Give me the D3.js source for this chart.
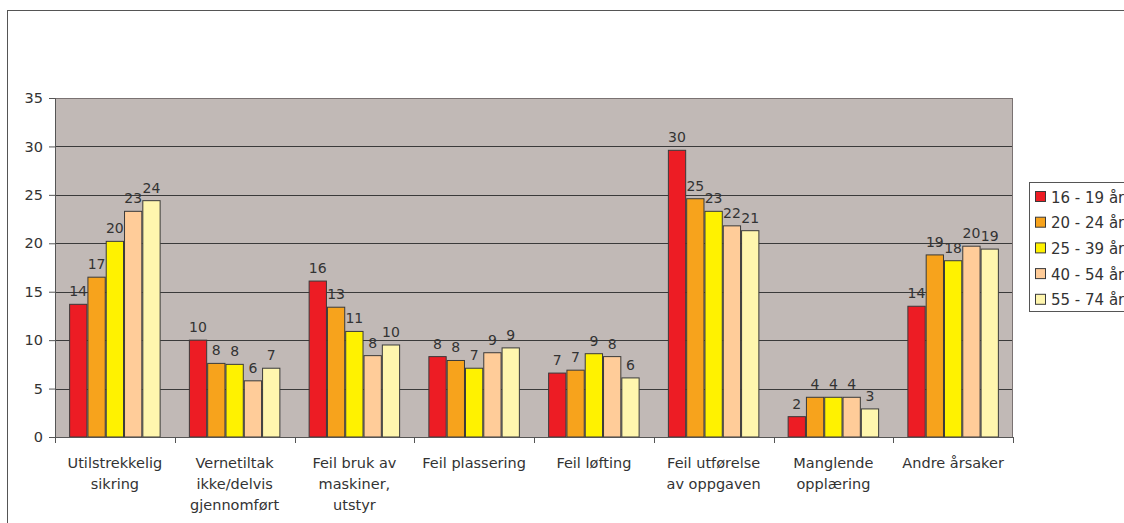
<!DOCTYPE html>
<html><head><meta charset="utf-8">
<script src="https://cdn.jsdelivr.net/npm/d3@7"></script>
<style>body{margin:0;background:#fff}svg{display:block;font-family:"DejaVu Sans",Arial,sans-serif}</style>
</head><body><svg id="c" width="1124" height="523"></svg>
<script>
const categories = [
  ["Utilstrekkelig","sikring"],
  ["Vernetiltak","ikke/delvis","gjennomført"],
  ["Feil bruk av","maskiner,","utstyr"],
  ["Feil plassering"],
  ["Feil løfting"],
  ["Feil utførelse","av oppgaven"],
  ["Manglende","opplæring"],
  ["Andre årsaker"]
];
const seriesNames = ["16 - 19 år","20 - 24 år","25 - 39 år","40 - 54 år","55 - 74 år"];
const s16_19 = [13.7, 10.0, 16.1, 8.3, 6.6, 29.6, 2.1, 13.5];
const s20_24 = [16.5, 7.6, 13.4, 7.9, 6.9, 24.6, 4.1, 18.8];
const s25_39 = [20.2, 7.5, 10.9, 7.1, 8.6, 23.3, 4.1, 18.2];
const s40_54 = [23.3, 5.8, 8.4, 8.7, 8.3, 21.8, 4.1, 19.7];
const s55_74 = [24.4, 7.1, 9.5, 9.2, 6.1, 21.3, 2.9, 19.4];
const yTicks = [0,5,10,15,20,25,30,35];
const colors = ["#ED1C24","#F7A31C","#FFF200","#FFCC99","#FFF6AE"];
const series = [s16_19,s20_24,s25_39,s40_54,s55_74];
const FONT = "DejaVu Sans, Arial, sans-serif";

const svg = d3.select("#c");
// outer frame
svg.append("rect").attr("x",7.5).attr("y",10.5).attr("width",1130).attr("height",530)
  .attr("fill","none").attr("stroke","#555").attr("stroke-width",1);

const L=55, R=1013, T=98, B=437;
const x0 = d3.scaleBand().domain(d3.range(categories.length)).range([L,R]).paddingInner(0.236).paddingOuter(0.118);
const x1 = d3.scaleBand().domain(d3.range(series.length)).range([0,x0.bandwidth()]);
const y = d3.scaleLinear().domain([0,35]).range([B,T]);

svg.append("rect").attr("x",L).attr("y",T).attr("width",R-L).attr("height",B-T).attr("fill","#C1B9B6");
// gridlines
svg.append("g").selectAll("line").data(yTicks.filter(d=>d>0)).join("line")
  .attr("x1",L).attr("x2",R).attr("y1",d=>Math.round(y(d))+0.5).attr("y2",d=>Math.round(y(d))+0.5)
  .attr("stroke","#3a3a3a").attr("stroke-width",1);
svg.append("rect").attr("x",L+0.5).attr("y",T+0.5).attr("width",R-L-1).attr("height",B-T).attr("fill","none").attr("stroke","#7a7272");

// bars
const g = svg.append("g");
categories.forEach((c,i)=>{
  series.forEach((s,j)=>{
    const bx = x0(i)+x1(j);
    g.append("rect").attr("x",bx+0.5).attr("y",y(s[i])).attr("width",x1.bandwidth()-1).attr("height",B-y(s[i]))
      .attr("fill",colors[j]).attr("stroke","#3a3a3a").attr("stroke-width",1);
    g.append("text").attr("x",bx+x1.bandwidth()/2).attr("y",y(s[i])-8).attr("text-anchor","middle")
      .attr("font-size",14).attr("fill","#333").text(Math.round(s[i]));
  });
});

// y axis
const ya = svg.append("g").attr("transform",`translate(${L},0)`)
  .call(d3.axisLeft(y).tickValues(yTicks).tickSize(6).tickPadding(6));
ya.select(".domain").attr("stroke","#555");
ya.selectAll(".tick line").attr("stroke","#555");
ya.selectAll("text").attr("font-size",14.5).attr("fill","#333").attr("font-family",FONT);

// x axis baseline and ticks
const xa = svg.append("g");
xa.append("line").attr("x1",L).attr("x2",R).attr("y1",B+0.5).attr("y2",B+0.5).attr("stroke","#555");
const step = (R-L)/categories.length;
xa.selectAll("line.t").data(d3.range(categories.length+1)).join("line").attr("class","t")
  .attr("x1",d=>Math.round(L+d*step)+0.5).attr("x2",d=>Math.round(L+d*step)+0.5).attr("y1",B).attr("y2",B+6).attr("stroke","#555");
categories.forEach((c,i)=>{
  const t = xa.append("text").attr("x",x0(i)+x0.bandwidth()/2).attr("y",468).attr("text-anchor","middle")
    .attr("font-size",14.5).attr("fill","#333");
  c.forEach((line,k)=>t.append("tspan").attr("x",x0(i)+x0.bandwidth()/2).attr("dy",k?21:0).text(line));
});

// legend
svg.append("rect").attr("x",1029.5).attr("y",182.5).attr("width",120).attr("height",129).attr("fill","#fff").attr("stroke","#555");
seriesNames.forEach((n,j)=>{
  const yy = 197 + j*25.7;
  svg.append("rect").attr("x",1035.5).attr("y",yy-5.5).attr("width",10).attr("height",10).attr("fill",colors[j]).attr("stroke","#3a3a3a");
  svg.append("text").attr("x",1051).attr("y",yy+5.5).attr("font-size",15).attr("fill","#333").text(n);
});
</script></body></html>
